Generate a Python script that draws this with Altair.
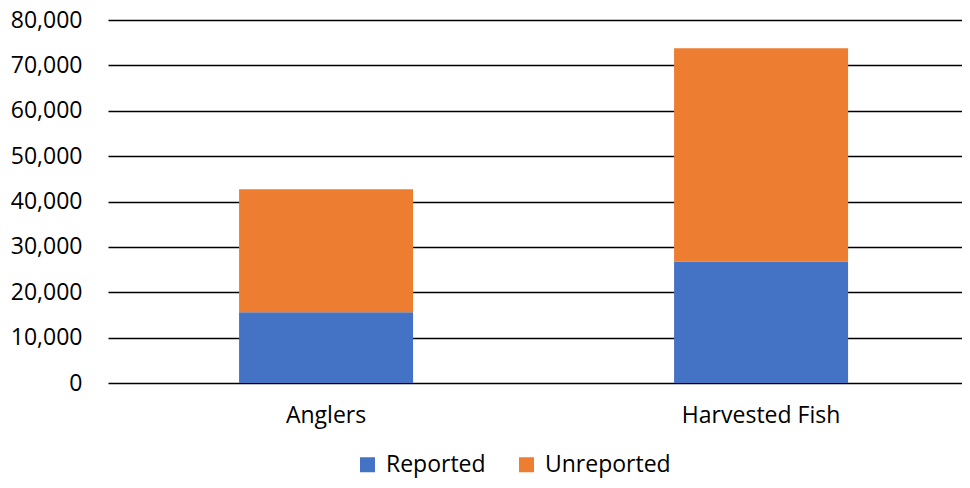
import altair as alt
import pandas as pd

categories = ["Anglers", "Harvested Fish"]
series = ["Reported", "Unreported"]
reported = [15600, 26800]
unreported = [27100, 47000]
colors = ["#4472C4", "#ED7D31"]

rows = []
for i, c in enumerate(categories):
    rows.append({"category": c, "series": series[0], "value": reported[i], "ord": 0})
    rows.append({"category": c, "series": series[1], "value": unreported[i], "ord": 1})
df = pd.DataFrame(rows)

FONT = "Open Sans"
FS = 23

chart = alt.Chart(df).mark_bar(size=174).encode(
    x=alt.X("category:N", sort=categories, title=None,
            scale=alt.Scale(paddingInner=0.6, paddingOuter=0.2816, align=0.535),
            axis=alt.Axis(labelAngle=0, labelPadding=21, ticks=False, domain=False,
                          labelFontSize=FS, labelColor="#000", labelFont=FONT)),
    y=alt.Y("value:Q", stack="zero", title=None,
            scale=alt.Scale(domain=[0, 80000], nice=False),
            axis=alt.Axis(values=list(range(0, 80001, 10000)), format=",d", ticks=False,
                          domain=False, labelPadding=26, labelFontSize=FS,
                          labelColor="#000", labelFont=FONT,
                          grid=True, gridColor="#000", gridWidth=1.5)),
    color=alt.Color("series:N", sort=series,
                    scale=alt.Scale(domain=series, range=colors),
                    legend=alt.Legend(title=None, orient="none", direction="horizontal",
                                      legendX=248, legendY=433,
                                      symbolType="square", symbolSize=225, symbolStrokeWidth=0,
                                      labelFontSize=FS, labelFont=FONT, labelColor="#000",
                                      labelOffset=7, columnPadding=29)),
    order=alt.Order("ord:Q"),
).properties(
    width=854, height=363,
    autosize=alt.AutoSizeParams(type="none"),
    padding={"left": 100, "top": 12, "right": 0, "bottom": 97},
).configure_view(stroke=None)

chart.save("out.html", embed_options={"renderer": "svg", "actions": False})
